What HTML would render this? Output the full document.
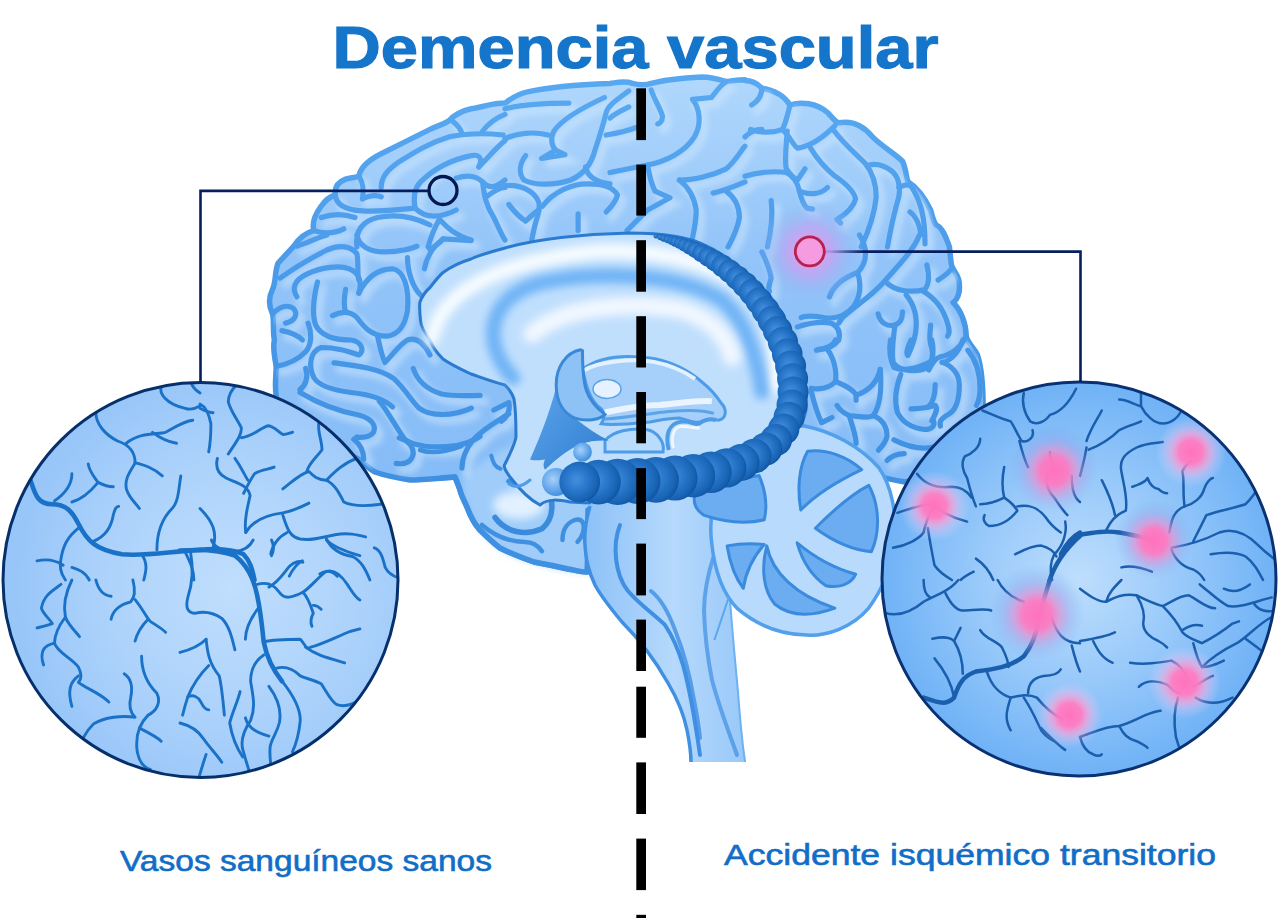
<!DOCTYPE html>
<html><head><meta charset="utf-8">
<style>
html,body{margin:0;padding:0;background:#fff;}
body{width:1280px;height:918px;overflow:hidden;position:relative;font-family:"Liberation Sans",sans-serif;}
svg{position:absolute;left:0;top:0;}
</style></head>
<body>
<svg width="1280" height="918" viewBox="0 0 1280 918" font-family="Liberation Sans, sans-serif">
<defs>
<radialGradient id="gL" cx="0.58" cy="0.52" r="0.55">
<stop offset="0" stop-color="#c0defd"/><stop offset="0.6" stop-color="#acd2fb"/><stop offset="1" stop-color="#98c6f9"/>
</radialGradient>
<radialGradient id="gR" cx="0.5" cy="0.5" r="0.52">
<stop offset="0" stop-color="#bedefd"/><stop offset="0.5" stop-color="#98c9fa"/><stop offset="1" stop-color="#6cb0f6"/>
</radialGradient>
<linearGradient id="gBr" gradientUnits="userSpaceOnUse" x1="0" y1="80" x2="0" y2="480">
<stop offset="0" stop-color="#b0d7fc"/><stop offset="0.45" stop-color="#92c4f9"/><stop offset="1" stop-color="#86bcf7"/>
</linearGradient>
<linearGradient id="gSu" gradientUnits="userSpaceOnUse" x1="0" y1="80" x2="0" y2="480">
<stop offset="0" stop-color="#58a8f1"/><stop offset="0.5" stop-color="#4a9aea"/><stop offset="1" stop-color="#4090e2"/>
</linearGradient>
<radialGradient id="pk">
<stop offset="0" stop-color="#ff72bc" stop-opacity="1"/><stop offset="0.35" stop-color="#ff7cc2" stop-opacity="0.95"/><stop offset="0.55" stop-color="#f898d2" stop-opacity="0.62"/><stop offset="0.78" stop-color="#e0b0ec" stop-opacity="0.22"/><stop offset="1" stop-color="#d8c0f4" stop-opacity="0"/>
</radialGradient>
<radialGradient id="pkh">
<stop offset="0" stop-color="#4f86e0" stop-opacity="0.55"/><stop offset="0.6" stop-color="#5a8fe4" stop-opacity="0.3"/><stop offset="1" stop-color="#6f9fe8" stop-opacity="0"/>
</radialGradient>
<radialGradient id="mkg">
<stop offset="0" stop-color="#f59ce0" stop-opacity="1"/><stop offset="0.4" stop-color="#c4a4f2" stop-opacity="0.85"/><stop offset="0.75" stop-color="#98b4f4" stop-opacity="0.35"/><stop offset="1" stop-color="#90c0f8" stop-opacity="0"/>
</radialGradient>
<radialGradient id="pkw">
<stop offset="0" stop-color="#f0f0ff" stop-opacity="0.6"/><stop offset="1" stop-color="#f0f0ff" stop-opacity="0"/>
</radialGradient>
<linearGradient id="gCC" x1="0" y1="0" x2="0" y2="1">
<stop offset="0" stop-color="#d9ecfe"/><stop offset="1" stop-color="#c4e0fd"/>
</linearGradient>
<linearGradient id="gBS" x1="0" y1="0" x2="1" y2="0">
<stop offset="0" stop-color="#8cc1f7"/><stop offset="0.55" stop-color="#b6d9fc"/><stop offset="1" stop-color="#98c8f9"/>
</linearGradient>
<radialGradient id="bead" cx="0.42" cy="0.45" r="0.6">
<stop offset="0" stop-color="#458fdc"/><stop offset="0.5" stop-color="#2775c9"/><stop offset="0.85" stop-color="#1762b2"/><stop offset="1" stop-color="#0f539f"/>
</radialGradient>
<radialGradient id="knob" cx="0.4" cy="0.4" r="0.65">
<stop offset="0" stop-color="#a6d0fa"/><stop offset="0.6" stop-color="#66a8ec"/><stop offset="1" stop-color="#3f8ad8"/>
</radialGradient>
<path id="cerP" d="M281.9,406.9 C280.0,403.8 276.2,400.0 276.2,396.2 C274.4,385.0 276.2,375.6 276.2,366.2 C274.4,356.9 272.5,347.5 274.4,340.0 C272.5,332.5 274.4,321.2 272.5,313.8 C268.8,306.2 268.8,296.9 272.5,289.4 C276.2,281.9 274.4,272.5 278.1,263.1 L293.1,246.9 C298.8,238.1 306.2,232.5 313.8,230.6 C311.9,223.1 315.6,213.8 321.2,206.2 C325.0,200.6 328.8,196.9 335.3,195.0 C334.4,187.5 338.1,181.9 345.6,179.1 C351.2,177.8 356.9,177.2 358.8,176.2 C360.6,166.9 370.0,159.4 381.2,153.8 C396.2,146.2 415.0,136.9 430.0,129.4 C437.5,125.6 443.1,124.7 448.8,120.9 C452.5,116.2 461.9,110.6 471.2,108.8 C482.5,106.9 493.8,103.1 505.0,103.1 L505.0,103.1 C512.5,97.5 518.1,93.8 527.5,91.9 C551.9,86.2 580.0,84.4 610.0,83.4 C617.5,82.5 625.0,80.6 632.5,83.4 C640.0,85.3 645.6,85.3 651.2,83.4 C664.4,79.7 683.1,77.8 701.9,76.9 C711.2,76.9 720.6,79.7 726.2,81.6 C733.8,80.6 739.4,79.7 745.0,79.7 L745.0,80.6 C752.5,80.6 758.1,84.4 761.9,88.1 C773.1,90.0 784.4,95.6 790.0,105.0 C801.2,101.2 816.2,103.1 827.5,112.5 C833.1,118.1 835.0,121.9 838.8,122.8 C853.8,120.0 865.0,127.5 872.5,136.9 C881.9,146.2 895.0,153.8 902.5,161.2 C906.2,168.8 906.2,178.1 908.1,181.9 C917.5,187.5 925.0,198.8 930.6,210.0 C932.5,217.5 934.4,223.1 936.2,225.0 C941.9,226.9 945.6,236.2 949.4,246.9 L951.2,263.1 C951.2,268.8 956.9,272.5 958.8,280.0 C960.6,289.4 958.8,298.8 953.1,302.5 C960.6,310.0 966.2,323.1 966.2,336.2 C968.1,343.8 973.8,347.5 977.5,355.0 C981.2,366.2 983.1,385.0 983.1,406.9 C982,415 975,440 960,455 C945,470 925,478 905,482 C880,478 860,472 840,460 C820,445 810,430 800,424 L745,470 L588,510 C588,540 588,560 587,572 C580,572 575,570 568,569 C555,566 545,564 534,562 C520,557 510,553 500,548 C492,542 485,535 479,529 C473,522 470,515 467,507 C464,500 461,495 460,490 C458,484 456,480 455,477 C440,478 425,480 410,480 C398,478 386,476 375,472 C368,468 364,464 360,460 C340,450 318,440 300,425 Z
"/>
<filter id="blur2" x="-30%" y="-30%" width="160%" height="160%"><feGaussianBlur stdDeviation="2"/></filter>
<filter id="blur3" x="-5%" y="-5%" width="110%" height="110%"><feGaussianBlur stdDeviation="3"/></filter>
<filter id="blur4" x="-30%" y="-30%" width="160%" height="160%"><feGaussianBlur stdDeviation="4"/></filter>
</defs>

<!-- cerebrum -->
<use href="#cerP" fill="url(#gBr)" stroke="url(#gSu)" stroke-width="5.5" stroke-linejoin="round"/>
<path d="M463,478 C490,450 540,430 592,425 L592,574 C560,572 520,562 500,550 C480,535 468,512 463,492 Z" fill="#aad3fb" opacity="0.7" filter="url(#blur3)"/>
<ellipse cx="519" cy="505" rx="26" ry="14" fill="#e2f1ff" filter="url(#blur4)"/>
<clipPath id="cerClip"><use href="#cerP"/></clipPath>
<g clip-path="url(#cerClip)" filter="url(#blur3)" opacity="0.55">
<g fill="none" stroke="#d2e9fe" stroke-width="8" stroke-linecap="round" transform="translate(5 6)">
<path d="M452.5,120.9C458.1,125.6,460.9,129.4,461.9,133.1" />
<path d="M381.2,187.5C381.2,176.2,388.8,168.8,400.0,161.2C415.0,151.9,430.0,142.5,448.8,136.9C467.5,133.1,486.2,133.1,503.1,135.0" />
<path d="M482.5,131.2C488.1,123.8,495.6,118.1,505.0,114.4" />
<path d="M358.8,176.2C362.5,181.9,364.4,187.5,362.5,198.8" />
<path d="M362.5,198.8C370.0,195.0,377.5,195.0,381.2,196.9" />
<path d="M335.3,195.0C336.2,206.2,347.5,210.0,362.5,210.9C377.5,211.9,396.2,210.0,415.0,208.1" />
<path d="M415.0,208.1C413.1,196.9,415.0,187.5,420.6,181.9C433.8,168.8,452.5,159.4,471.2,155.6C480.6,153.8,482.5,159.4,478.8,166.9" />
<path d="M478.8,166.9C490.0,155.6,497.5,146.2,505.0,140.6" />
<path d="M456.2,178.1C467.5,174.4,476.9,176.2,482.5,181.9C490.0,189.4,495.6,187.5,505.0,180.0" />
<path d="M482.5,181.9C484.4,196.9,486.2,206.2,493.8,217.5C497.5,225.0,501.2,234.4,505.0,240.0" />
<path d="M486.2,196.9C493.8,191.2,499.4,187.5,505.0,187.5" />
<path d="M415.0,208.1C424.4,217.5,437.5,219.4,456.2,210.0" />
<path d="M439.4,219.4C445.0,225.0,452.5,234.4,471.2,240.0" />
<path d="M439.4,219.4C433.8,228.8,430.0,240.0,428.1,246.9" />
<path d="M356.9,246.9C355.0,230.6,362.5,221.2,377.5,217.5C396.2,213.8,415.0,217.5,430.0,225.0" />
<path d="M313.8,230.6C325.0,234.4,336.2,232.5,343.8,228.8" />
<path d="M321.2,217.5C332.5,213.8,343.8,213.8,355.0,217.5" />
<path d="M505.0,108.8C520.0,105.0,542.5,103.1,568.8,103.1" />
<path d="M604.4,97.5C580.0,108.8,561.2,120.0,553.8,131.2C550.0,138.8,551.9,146.2,555.6,150.0L541.6,158.4L565.0,154.7L555.6,150.0" />
<path d="M505.0,138.8C516.2,133.1,533.1,131.2,548.1,135.0" />
<path d="M525.6,155.6C520.0,163.1,518.1,172.5,523.8,180.0C535.0,185.6,553.8,185.6,570.6,180.0C583.8,174.4,591.2,165.0,595.0,150.0C598.8,138.8,602.5,127.5,606.2,112.5C608.1,105.0,617.5,99.4,628.8,90.9" />
<path d="M628.8,106.9C621.2,110.6,613.8,114.4,610.0,118.1" />
<path d="M606.2,135.0C617.5,133.1,626.9,131.2,636.2,127.5" />
<path d="M651.2,90.0C655.0,101.2,660.6,108.8,662.5,116.2C662.5,121.9,658.8,123.8,657.8,123.8" />
<path d="M711.2,97.5L692.5,99.4C700.0,108.8,701.9,123.8,694.4,136.9C685.0,151.9,666.2,161.2,647.5,165.0C636.2,166.9,621.2,170.6,610.0,172.5" />
<path d="M726.2,81.6C718.8,86.2,715.0,93.8,711.2,97.5" />
<path d="M505.0,185.6C520.0,183.8,535.0,191.2,538.8,202.5C540.6,210.0,536.9,217.5,535.0,225.0C533.1,232.5,531.2,240.0,531.2,246.9" />
<path d="M508.8,204.4C514.4,211.9,520.0,217.5,525.6,221.2C529.4,217.5,533.1,213.8,538.8,210.0" />
<path d="M542.5,206.2C553.8,191.2,572.5,183.8,587.5,183.8C602.5,183.8,613.8,187.5,617.5,195.0C615.6,202.5,610.0,208.1,606.2,211.9" />
<path d="M585.6,166.9C587.5,176.2,595.0,181.9,610.0,183.8" />
<path d="M578.1,213.8L578.1,230.6" />
<path d="M647.5,165.0C649.4,176.2,651.2,183.8,655.0,191.2L670.0,197.8L647.5,210.0C640.0,217.5,632.5,225.0,626.9,230.6" />
<path d="M679.4,180.0C688.8,187.5,694.4,196.9,696.2,210.0C696.2,225.0,692.5,236.2,690.6,246.9" />
<path d="M679.4,180.0C692.5,180.0,711.2,176.2,726.2,168.8C735.6,161.2,741.2,150.0,745.0,146.2" />
<path d="M713.1,193.1C722.5,191.2,731.9,187.5,745.0,181.9" />
<path d="M726.2,191.2C733.8,196.9,739.4,206.2,739.4,217.5C737.5,228.8,731.9,240.0,728.1,246.9" />
<path d="M761.9,88.1C761.9,95.6,758.1,101.2,751.6,105.0" />
<path d="M790.0,105.0C788.1,112.5,786.2,121.9,782.5,129.4C773.1,133.1,760.0,133.1,750.6,129.4" />
<path d="M745.0,136.9C750.6,131.2,756.2,129.4,761.9,129.4" />
<path d="M782.5,129.4C790.0,136.9,793.8,146.2,797.5,148.1C810.6,146.2,823.8,136.9,835.0,125.6" />
<path d="M787.2,131.2C786.2,146.2,784.4,159.4,786.2,168.8C790.0,174.4,793.8,178.1,797.5,180.0L805.0,168.8" />
<path d="M745.0,176.2C756.2,172.5,773.1,170.6,786.2,172.5C793.8,176.2,797.5,181.9,799.4,191.2C801.2,198.8,803.1,204.4,806.9,208.1L812.5,209.1" />
<path d="M799.4,191.2C808.8,195.0,820.0,195.0,827.5,187.5" />
<path d="M810.6,148.1C816.2,157.5,823.8,166.9,835.0,176.2C846.2,183.8,853.8,191.2,855.6,198.8C853.8,206.2,846.2,213.8,836.9,219.4L840.6,223.1" />
<path d="M833.1,129.4C842.5,142.5,855.6,153.8,865.0,163.1C872.5,172.5,876.2,183.8,876.2,196.9C874.4,215.6,868.8,230.6,861.2,246.9" />
<path d="M868.8,165.0C876.2,163.1,883.8,165.0,891.2,170.6C898.8,176.2,900.6,187.5,898.8,196.9C895.0,210.0,891.2,225.0,887.5,246.9" />
<path d="M898.8,187.5C906.2,183.8,910.0,183.8,911.9,187.5C921.2,202.5,925.0,217.5,925.0,243.8" />
<path d="M910.0,211.9C915.6,215.6,919.4,225.0,921.2,234.4" />
<path d="M771.2,200.6C773.1,215.6,771.2,230.6,767.5,246.9" />
<path d="M296.9,246.2C308.1,242.5,319.4,236.9,326.9,235.0" />
<path d="M280.0,278.1C293.1,268.8,311.9,257.5,326.9,250.0C340.0,244.4,351.2,246.2,356.9,253.8C358.8,263.1,356.9,272.5,358.8,280.0" />
<path d="M356.9,235.0C358.8,246.2,370.0,251.9,385.0,251.9C400.0,251.9,413.1,248.1,416.9,246.2" />
<path d="M471.2,240.6L443.1,238.8C433.8,246.2,426.2,257.5,424.4,268.8" />
<path d="M443.1,238.8C441.2,242.5,433.8,246.2,430.0,250.0" />
<path d="M296.9,296.9C291.2,287.5,295.0,280.0,306.2,274.4C321.2,266.9,340.0,265.0,349.4,268.8C358.8,272.5,362.5,281.9,358.8,293.1" />
<path d="M358.8,293.1C366.2,278.1,377.5,268.8,392.5,268.8C403.8,270.6,409.4,287.5,407.5,310.0C405.6,323.1,400.0,334.4,386.9,336.2C370.0,336.2,362.5,325.0,356.9,317.5C351.2,311.9,343.8,310.0,332.5,315.6" />
<path d="M345.6,289.4C343.8,298.8,343.8,306.2,345.6,311.9" />
<path d="M407.5,257.5C407.5,272.5,413.1,287.5,420.6,295.0" />
<path d="M317.5,281.9C313.8,296.9,311.9,313.8,315.6,325.0C321.2,336.2,336.2,340.0,351.2,340.0C362.5,341.9,364.4,351.2,358.8,355.0C347.5,351.2,336.2,347.5,321.2,347.5C310.0,351.2,308.1,366.2,313.8,377.5C319.4,386.9,336.2,390.6,351.2,392.5C370.0,394.4,385.0,400.0,392.5,406.9" />
<path d="M377.5,336.2C379.4,343.8,381.2,355.0,385.0,362.5C392.5,355.0,400.0,343.8,407.5,340.0C418.8,336.2,426.2,347.5,430.0,355.0" />
<path d="M272.5,313.8C280.0,306.2,287.5,304.4,293.1,308.1C298.8,313.8,295.0,321.2,285.6,323.1" />
<path d="M281.9,330.6C291.2,332.5,298.8,336.2,302.5,340.0" />
<path d="M276.2,366.2C287.5,364.4,298.8,358.8,306.2,351.2C311.9,343.8,311.9,332.5,308.1,323.1" />
<path d="M761.9,251.9C765.6,259.4,769.4,266.9,771.2,278.1C769.4,283.8,767.5,291.2,769.4,291.2" />
<path d="M859.4,235.0C866.9,246.2,868.8,261.2,857.5,272.5C842.5,278.1,833.1,285.6,829.4,296.9" />
<path d="M857.5,272.5C861.2,283.8,861.2,295.0,853.8,306.2C846.2,315.6,835.0,319.4,823.8,317.5C812.5,315.6,805.0,315.6,801.2,317.5" />
<path d="M919.4,235.0C913.8,250.0,898.8,265.0,883.8,281.9C872.5,295.0,857.5,304.4,842.5,317.5L838.8,323.1" />
<path d="M885.6,281.9C895.0,291.2,910.0,293.1,925.0,289.4C930.6,281.9,928.8,272.5,926.9,265.0" />
<path d="M938.1,280.0C943.8,276.2,949.4,272.5,951.2,268.8" />
<path d="M923.1,291.2C936.2,298.8,943.8,310.0,947.5,323.1C949.4,328.8,949.4,334.4,947.5,336.2" />
<path d="M906.2,295.0C915.6,306.2,917.5,319.4,915.6,332.5C913.8,343.8,910.0,351.2,908.1,355.0" />
<path d="M878.1,313.8C880.0,323.1,887.5,326.9,895.0,325.0C900.6,323.1,902.5,317.5,902.5,311.9" />
<path d="M895.0,325.0C893.1,340.0,891.2,351.2,893.1,362.5C898.8,370.0,910.0,371.9,921.2,370.0C932.5,368.1,934.4,355.0,930.6,343.8C928.8,336.2,930.6,328.8,930.6,325.0" />
<path d="M797.5,326.9C808.8,323.1,820.0,321.2,831.2,323.1C838.8,326.9,840.6,332.5,838.8,340.0C833.1,347.5,823.8,349.4,818.1,349.4" />
<path d="M966.2,336.2C960.6,347.5,951.2,355.0,940.0,356.9C934.4,358.8,930.6,366.2,928.8,370.0" />
<path d="M493.8,410.0L508.8,402.5C510.6,411.9,506.9,417.5,501.2,421.2" />
<path d="M508.8,413.8C497.5,421.2,482.5,428.8,473.1,440.0C465.6,449.4,461.9,458.8,461.9,468.1" />
<path d="M508.8,481.2C516.2,485.0,523.8,483.1,529.4,475.6" />
<path d="M816.5,350.3C826.8,348.6,833.7,345.2,835.4,340.0" />
<path d="M826.8,348.6C833.7,357.2,837.1,371.0,835.4,381.3C830.2,388.2,818.2,389.9,811.3,388.2" />
<path d="M835.4,381.3C842.3,384.7,852.6,388.2,856.1,395.1L856.1,400.2" />
<path d="M856.1,395.1C866.4,391.6,876.7,384.7,880.2,369.3" />
<path d="M880.2,369.3C881.9,388.2,880.2,405.4,873.3,415.7C868.1,419.2,856.1,415.7,849.2,415.7C842.3,412.3,838.8,408.8,837.1,405.4" />
<path d="M873.3,415.7C881.9,419.2,887.0,426.1,887.0,436.4C885.3,443.3,880.2,448.4,878.4,450.2" />
<path d="M849.2,415.7C852.6,426.1,856.1,436.4,856.1,443.3" />
<path d="M811.3,391.6C814.7,405.4,818.2,415.7,821.6,422.6C825.1,420.9,828.5,419.2,832.0,417.5" />
<path d="M911.1,340.0C907.7,346.9,906.0,353.8,907.7,355.5" />
<path d="M890.5,340.0C888.8,350.3,890.5,360.7,893.9,367.5C904.2,372.7,924.9,365.8,931.8,360.7C933.5,353.8,933.5,346.9,931.8,340.0" />
<path d="M962.8,340.0C959.3,350.3,952.4,360.7,942.1,362.4" />
<path d="M900.8,374.4C895.6,388.2,893.9,400.2,897.4,412.3C902.5,422.6,911.1,427.8,924.9,429.5C931.8,429.5,935.2,426.1,933.5,420.9" />
<path d="M931.8,420.9C935.2,414.0,938.7,408.8,935.2,405.4L928.3,407.1C921.5,408.8,916.3,408.8,911.1,408.8" />
<path d="M935.2,384.7C935.2,395.1,933.5,402.0,928.3,407.1" />
<path d="M942.1,362.4C952.4,365.8,959.3,374.4,959.3,384.7C959.3,396.8,957.6,408.8,949.0,414.0C942.1,417.5,938.7,420.9,940.4,426.1" />
<path d="M967.9,350.3C976.5,360.7,980.0,374.4,980.0,388.2C980.0,395.1,978.3,402.0,976.5,405.4" />
<path d="M893.9,439.8C907.7,446.7,921.5,450.2,935.2,446.7" />
<path d="M887.0,460.5C890.5,457.0,897.4,453.6,904.2,453.6" />
<path d="M379.3,401.1C387.8,411.0,396.3,428.0,404.8,439.3C413.3,446.4,434.5,448.5,455.8,445.7C467.1,443.6,475.6,439.3,480.0,436.5" />
<path d="M334.0,362.8C356.6,365.7,379.3,368.5,393.5,378.4C404.8,388.3,410.5,399.7,419.0,408.1C430.3,416.6,452.9,416.6,471.4,408.1" />
<path d="M413.3,368.5C417.5,381.2,427.5,389.7,441.6,394.0C455.8,396.8,469.9,395.4,480.0,395.4" />
<path d="M300.0,392.6C314.2,401.1,335.4,411.0,359.5,415.2C370.8,418.1,376.5,425.1,373.6,432.2C370.8,436.5,363.7,437.9,356.6,437.2" />
<path d="M396.3,463.4C404.8,464.8,411.9,462.0,413.3,453.5C413.3,446.4,407.6,440.7,399.1,437.9" />
<path d="M305.7,368.5C308.5,377.0,305.7,385.5,300.0,389.7" />
<path d="M353.8,439.3C360.9,445.0,363.7,452.0,363.7,459.1" />
</g>
</g>
<g fill="none" stroke="url(#gSu)" stroke-width="5.2" stroke-linecap="round" stroke-linejoin="round">
<path d="M452.5,120.9C458.1,125.6,460.9,129.4,461.9,133.1" />
<path d="M381.2,187.5C381.2,176.2,388.8,168.8,400.0,161.2C415.0,151.9,430.0,142.5,448.8,136.9C467.5,133.1,486.2,133.1,503.1,135.0" />
<path d="M482.5,131.2C488.1,123.8,495.6,118.1,505.0,114.4" />
<path d="M358.8,176.2C362.5,181.9,364.4,187.5,362.5,198.8" />
<path d="M362.5,198.8C370.0,195.0,377.5,195.0,381.2,196.9" />
<path d="M335.3,195.0C336.2,206.2,347.5,210.0,362.5,210.9C377.5,211.9,396.2,210.0,415.0,208.1" />
<path d="M415.0,208.1C413.1,196.9,415.0,187.5,420.6,181.9C433.8,168.8,452.5,159.4,471.2,155.6C480.6,153.8,482.5,159.4,478.8,166.9" />
<path d="M478.8,166.9C490.0,155.6,497.5,146.2,505.0,140.6" />
<path d="M456.2,178.1C467.5,174.4,476.9,176.2,482.5,181.9C490.0,189.4,495.6,187.5,505.0,180.0" />
<path d="M482.5,181.9C484.4,196.9,486.2,206.2,493.8,217.5C497.5,225.0,501.2,234.4,505.0,240.0" />
<path d="M486.2,196.9C493.8,191.2,499.4,187.5,505.0,187.5" />
<path d="M415.0,208.1C424.4,217.5,437.5,219.4,456.2,210.0" />
<path d="M439.4,219.4C445.0,225.0,452.5,234.4,471.2,240.0" />
<path d="M439.4,219.4C433.8,228.8,430.0,240.0,428.1,246.9" />
<path d="M356.9,246.9C355.0,230.6,362.5,221.2,377.5,217.5C396.2,213.8,415.0,217.5,430.0,225.0" />
<path d="M313.8,230.6C325.0,234.4,336.2,232.5,343.8,228.8" />
<path d="M321.2,217.5C332.5,213.8,343.8,213.8,355.0,217.5" />
<path d="M505.0,108.8C520.0,105.0,542.5,103.1,568.8,103.1" />
<path d="M604.4,97.5C580.0,108.8,561.2,120.0,553.8,131.2C550.0,138.8,551.9,146.2,555.6,150.0L541.6,158.4L565.0,154.7L555.6,150.0" />
<path d="M505.0,138.8C516.2,133.1,533.1,131.2,548.1,135.0" />
<path d="M525.6,155.6C520.0,163.1,518.1,172.5,523.8,180.0C535.0,185.6,553.8,185.6,570.6,180.0C583.8,174.4,591.2,165.0,595.0,150.0C598.8,138.8,602.5,127.5,606.2,112.5C608.1,105.0,617.5,99.4,628.8,90.9" />
<path d="M628.8,106.9C621.2,110.6,613.8,114.4,610.0,118.1" />
<path d="M606.2,135.0C617.5,133.1,626.9,131.2,636.2,127.5" />
<path d="M651.2,90.0C655.0,101.2,660.6,108.8,662.5,116.2C662.5,121.9,658.8,123.8,657.8,123.8" />
<path d="M711.2,97.5L692.5,99.4C700.0,108.8,701.9,123.8,694.4,136.9C685.0,151.9,666.2,161.2,647.5,165.0C636.2,166.9,621.2,170.6,610.0,172.5" />
<path d="M726.2,81.6C718.8,86.2,715.0,93.8,711.2,97.5" />
<path d="M505.0,185.6C520.0,183.8,535.0,191.2,538.8,202.5C540.6,210.0,536.9,217.5,535.0,225.0C533.1,232.5,531.2,240.0,531.2,246.9" />
<path d="M508.8,204.4C514.4,211.9,520.0,217.5,525.6,221.2C529.4,217.5,533.1,213.8,538.8,210.0" />
<path d="M542.5,206.2C553.8,191.2,572.5,183.8,587.5,183.8C602.5,183.8,613.8,187.5,617.5,195.0C615.6,202.5,610.0,208.1,606.2,211.9" />
<path d="M585.6,166.9C587.5,176.2,595.0,181.9,610.0,183.8" />
<path d="M578.1,213.8L578.1,230.6" />
<path d="M647.5,165.0C649.4,176.2,651.2,183.8,655.0,191.2L670.0,197.8L647.5,210.0C640.0,217.5,632.5,225.0,626.9,230.6" />
<path d="M679.4,180.0C688.8,187.5,694.4,196.9,696.2,210.0C696.2,225.0,692.5,236.2,690.6,246.9" />
<path d="M679.4,180.0C692.5,180.0,711.2,176.2,726.2,168.8C735.6,161.2,741.2,150.0,745.0,146.2" />
<path d="M713.1,193.1C722.5,191.2,731.9,187.5,745.0,181.9" />
<path d="M726.2,191.2C733.8,196.9,739.4,206.2,739.4,217.5C737.5,228.8,731.9,240.0,728.1,246.9" />
<path d="M761.9,88.1C761.9,95.6,758.1,101.2,751.6,105.0" />
<path d="M790.0,105.0C788.1,112.5,786.2,121.9,782.5,129.4C773.1,133.1,760.0,133.1,750.6,129.4" />
<path d="M745.0,136.9C750.6,131.2,756.2,129.4,761.9,129.4" />
<path d="M782.5,129.4C790.0,136.9,793.8,146.2,797.5,148.1C810.6,146.2,823.8,136.9,835.0,125.6" />
<path d="M787.2,131.2C786.2,146.2,784.4,159.4,786.2,168.8C790.0,174.4,793.8,178.1,797.5,180.0L805.0,168.8" />
<path d="M745.0,176.2C756.2,172.5,773.1,170.6,786.2,172.5C793.8,176.2,797.5,181.9,799.4,191.2C801.2,198.8,803.1,204.4,806.9,208.1L812.5,209.1" />
<path d="M799.4,191.2C808.8,195.0,820.0,195.0,827.5,187.5" />
<path d="M810.6,148.1C816.2,157.5,823.8,166.9,835.0,176.2C846.2,183.8,853.8,191.2,855.6,198.8C853.8,206.2,846.2,213.8,836.9,219.4L840.6,223.1" />
<path d="M833.1,129.4C842.5,142.5,855.6,153.8,865.0,163.1C872.5,172.5,876.2,183.8,876.2,196.9C874.4,215.6,868.8,230.6,861.2,246.9" />
<path d="M868.8,165.0C876.2,163.1,883.8,165.0,891.2,170.6C898.8,176.2,900.6,187.5,898.8,196.9C895.0,210.0,891.2,225.0,887.5,246.9" />
<path d="M898.8,187.5C906.2,183.8,910.0,183.8,911.9,187.5C921.2,202.5,925.0,217.5,925.0,243.8" />
<path d="M910.0,211.9C915.6,215.6,919.4,225.0,921.2,234.4" />
<path d="M771.2,200.6C773.1,215.6,771.2,230.6,767.5,246.9" />
<path d="M296.9,246.2C308.1,242.5,319.4,236.9,326.9,235.0" />
<path d="M280.0,278.1C293.1,268.8,311.9,257.5,326.9,250.0C340.0,244.4,351.2,246.2,356.9,253.8C358.8,263.1,356.9,272.5,358.8,280.0" />
<path d="M356.9,235.0C358.8,246.2,370.0,251.9,385.0,251.9C400.0,251.9,413.1,248.1,416.9,246.2" />
<path d="M471.2,240.6L443.1,238.8C433.8,246.2,426.2,257.5,424.4,268.8" />
<path d="M443.1,238.8C441.2,242.5,433.8,246.2,430.0,250.0" />
<path d="M296.9,296.9C291.2,287.5,295.0,280.0,306.2,274.4C321.2,266.9,340.0,265.0,349.4,268.8C358.8,272.5,362.5,281.9,358.8,293.1" />
<path d="M358.8,293.1C366.2,278.1,377.5,268.8,392.5,268.8C403.8,270.6,409.4,287.5,407.5,310.0C405.6,323.1,400.0,334.4,386.9,336.2C370.0,336.2,362.5,325.0,356.9,317.5C351.2,311.9,343.8,310.0,332.5,315.6" />
<path d="M345.6,289.4C343.8,298.8,343.8,306.2,345.6,311.9" />
<path d="M407.5,257.5C407.5,272.5,413.1,287.5,420.6,295.0" />
<path d="M317.5,281.9C313.8,296.9,311.9,313.8,315.6,325.0C321.2,336.2,336.2,340.0,351.2,340.0C362.5,341.9,364.4,351.2,358.8,355.0C347.5,351.2,336.2,347.5,321.2,347.5C310.0,351.2,308.1,366.2,313.8,377.5C319.4,386.9,336.2,390.6,351.2,392.5C370.0,394.4,385.0,400.0,392.5,406.9" />
<path d="M377.5,336.2C379.4,343.8,381.2,355.0,385.0,362.5C392.5,355.0,400.0,343.8,407.5,340.0C418.8,336.2,426.2,347.5,430.0,355.0" />
<path d="M272.5,313.8C280.0,306.2,287.5,304.4,293.1,308.1C298.8,313.8,295.0,321.2,285.6,323.1" />
<path d="M281.9,330.6C291.2,332.5,298.8,336.2,302.5,340.0" />
<path d="M276.2,366.2C287.5,364.4,298.8,358.8,306.2,351.2C311.9,343.8,311.9,332.5,308.1,323.1" />
<path d="M761.9,251.9C765.6,259.4,769.4,266.9,771.2,278.1C769.4,283.8,767.5,291.2,769.4,291.2" />
<path d="M859.4,235.0C866.9,246.2,868.8,261.2,857.5,272.5C842.5,278.1,833.1,285.6,829.4,296.9" />
<path d="M857.5,272.5C861.2,283.8,861.2,295.0,853.8,306.2C846.2,315.6,835.0,319.4,823.8,317.5C812.5,315.6,805.0,315.6,801.2,317.5" />
<path d="M919.4,235.0C913.8,250.0,898.8,265.0,883.8,281.9C872.5,295.0,857.5,304.4,842.5,317.5L838.8,323.1" />
<path d="M885.6,281.9C895.0,291.2,910.0,293.1,925.0,289.4C930.6,281.9,928.8,272.5,926.9,265.0" />
<path d="M938.1,280.0C943.8,276.2,949.4,272.5,951.2,268.8" />
<path d="M923.1,291.2C936.2,298.8,943.8,310.0,947.5,323.1C949.4,328.8,949.4,334.4,947.5,336.2" />
<path d="M906.2,295.0C915.6,306.2,917.5,319.4,915.6,332.5C913.8,343.8,910.0,351.2,908.1,355.0" />
<path d="M878.1,313.8C880.0,323.1,887.5,326.9,895.0,325.0C900.6,323.1,902.5,317.5,902.5,311.9" />
<path d="M895.0,325.0C893.1,340.0,891.2,351.2,893.1,362.5C898.8,370.0,910.0,371.9,921.2,370.0C932.5,368.1,934.4,355.0,930.6,343.8C928.8,336.2,930.6,328.8,930.6,325.0" />
<path d="M797.5,326.9C808.8,323.1,820.0,321.2,831.2,323.1C838.8,326.9,840.6,332.5,838.8,340.0C833.1,347.5,823.8,349.4,818.1,349.4" />
<path d="M966.2,336.2C960.6,347.5,951.2,355.0,940.0,356.9C934.4,358.8,930.6,366.2,928.8,370.0" />
<path d="M493.8,410.0L508.8,402.5C510.6,411.9,506.9,417.5,501.2,421.2" />
<path d="M508.8,413.8C497.5,421.2,482.5,428.8,473.1,440.0C465.6,449.4,461.9,458.8,461.9,468.1" />
<path d="M508.8,481.2C516.2,485.0,523.8,483.1,529.4,475.6" />
<path d="M816.5,350.3C826.8,348.6,833.7,345.2,835.4,340.0" />
<path d="M826.8,348.6C833.7,357.2,837.1,371.0,835.4,381.3C830.2,388.2,818.2,389.9,811.3,388.2" />
<path d="M835.4,381.3C842.3,384.7,852.6,388.2,856.1,395.1L856.1,400.2" />
<path d="M856.1,395.1C866.4,391.6,876.7,384.7,880.2,369.3" />
<path d="M880.2,369.3C881.9,388.2,880.2,405.4,873.3,415.7C868.1,419.2,856.1,415.7,849.2,415.7C842.3,412.3,838.8,408.8,837.1,405.4" />
<path d="M873.3,415.7C881.9,419.2,887.0,426.1,887.0,436.4C885.3,443.3,880.2,448.4,878.4,450.2" />
<path d="M849.2,415.7C852.6,426.1,856.1,436.4,856.1,443.3" />
<path d="M811.3,391.6C814.7,405.4,818.2,415.7,821.6,422.6C825.1,420.9,828.5,419.2,832.0,417.5" />
<path d="M911.1,340.0C907.7,346.9,906.0,353.8,907.7,355.5" />
<path d="M890.5,340.0C888.8,350.3,890.5,360.7,893.9,367.5C904.2,372.7,924.9,365.8,931.8,360.7C933.5,353.8,933.5,346.9,931.8,340.0" />
<path d="M962.8,340.0C959.3,350.3,952.4,360.7,942.1,362.4" />
<path d="M900.8,374.4C895.6,388.2,893.9,400.2,897.4,412.3C902.5,422.6,911.1,427.8,924.9,429.5C931.8,429.5,935.2,426.1,933.5,420.9" />
<path d="M931.8,420.9C935.2,414.0,938.7,408.8,935.2,405.4L928.3,407.1C921.5,408.8,916.3,408.8,911.1,408.8" />
<path d="M935.2,384.7C935.2,395.1,933.5,402.0,928.3,407.1" />
<path d="M942.1,362.4C952.4,365.8,959.3,374.4,959.3,384.7C959.3,396.8,957.6,408.8,949.0,414.0C942.1,417.5,938.7,420.9,940.4,426.1" />
<path d="M967.9,350.3C976.5,360.7,980.0,374.4,980.0,388.2C980.0,395.1,978.3,402.0,976.5,405.4" />
<path d="M893.9,439.8C907.7,446.7,921.5,450.2,935.2,446.7" />
<path d="M887.0,460.5C890.5,457.0,897.4,453.6,904.2,453.6" />
<path d="M379.3,401.1C387.8,411.0,396.3,428.0,404.8,439.3C413.3,446.4,434.5,448.5,455.8,445.7C467.1,443.6,475.6,439.3,480.0,436.5" />
<path d="M334.0,362.8C356.6,365.7,379.3,368.5,393.5,378.4C404.8,388.3,410.5,399.7,419.0,408.1C430.3,416.6,452.9,416.6,471.4,408.1" />
<path d="M413.3,368.5C417.5,381.2,427.5,389.7,441.6,394.0C455.8,396.8,469.9,395.4,480.0,395.4" />
<path d="M300.0,392.6C314.2,401.1,335.4,411.0,359.5,415.2C370.8,418.1,376.5,425.1,373.6,432.2C370.8,436.5,363.7,437.9,356.6,437.2" />
<path d="M396.3,463.4C404.8,464.8,411.9,462.0,413.3,453.5C413.3,446.4,407.6,440.7,399.1,437.9" />
<path d="M305.7,368.5C308.5,377.0,305.7,385.5,300.0,389.7" />
<path d="M353.8,439.3C360.9,445.0,363.7,452.0,363.7,459.1" />
</g>

<path d="M495.0,517.5C506.2,532.5,525.0,536.2,541.9,528.8C551.2,521.2,553.1,510.0,551.2,498.8" fill="none" stroke="#3a8ade" stroke-width="5.5" stroke-linecap="round"/>
<path d="M481.9,525.0C495.0,536.2,510.0,541.9,525.0,541.9C532.5,541.9,538.1,545.6,541.9,551.2" fill="none" stroke="#4090e2" stroke-width="4.5" stroke-linecap="round"/>
<path d="M562.5,540.0C562.5,528.8,568.1,521.2,577.5,519.4C583.1,519.4,585.0,525.0,583.1,532.5C581.2,538.1,579.4,540.0,577.5,541.9" fill="none" stroke="#4090e2" stroke-width="4.5" stroke-linecap="round"/>
<path d="M420.0,450.0C431.2,453.8,446.2,451.9,461.2,446.2" fill="none" stroke="#4090e2" stroke-width="4.5" stroke-linecap="round"/>
<path d="M491.2,455.6C493.1,463.1,495.0,466.9,500.6,468.8" fill="none" stroke="#4090e2" stroke-width="4" stroke-linecap="round"/>
<use href="#cerP" fill="none" stroke="#4090e2" stroke-width="5.5" stroke-linejoin="round" clip-path="url(#botClip)"/>
<clipPath id="botClip"><rect x="440" y="470" width="160" height="120"/></clipPath>
<!-- interior pale -->
<path d="M505,248 C540,238 590,234 630,233 C665,233 690,238 700,243 C730,256 760,280 780,310 C800,345 808,380 806,410 C800,440 770,470 730,485 C690,498 620,506 570,502 C560,500 548,498 540,505 C530,500 520,490 510,477 C505,470 503,466 505,464 C512,450 516,440 516,436 C516,420 515,405 514,399 C512,392 508,388 505,385 C490,381 480,377 471,374 C458,368 450,364 443,359 C436,352 432,346 430,340 C424,332 421,326 420.6,321 C419.5,312 419.5,307 419.8,302.5 C422,296 426,291 430,287.5 C435,281 439,276 443,272.5 C452,266 461,262 471,259 C482,254 494,251 505,248 Z" fill="#c0dffd" stroke="#2a7ad0" stroke-width="3"/>
<path d="M432,338 C440,292 500,260 600,251 C690,249 745,276 765,311 C775,336 778,361 775,386" fill="none" stroke="#f6fbff" stroke-width="15" stroke-linecap="round" filter="url(#blur4)"/>
<path d="M513,378 C480,342 488,297 540,283 C600,270 680,274 722,300 C747,322 757,357 762,392" fill="none" stroke="#6fb3f6" stroke-width="15" stroke-linecap="round" filter="url(#blur4)"/>
<path d="M532,334 C562,308 622,300 682,310 C712,320 727,337 732,357" fill="none" stroke="#f0f7ff" stroke-width="18" stroke-linecap="round" filter="url(#blur4)"/>
<!-- thalamus -->
<path d="M582.5,369.4C597.5,358.1,621.9,354.4,650.0,358.1C668.8,360.9,687.5,369.4,702.5,382.5C711.9,390.0,717.5,397.5,721.2,403.1C726.9,408.8,726.9,418.1,719.4,420.0C711.9,420.0,706.2,418.1,700.6,421.9C695.0,423.8,687.5,420.0,680.0,418.1C668.8,418.1,661.2,420.0,650.0,421.9C631.2,423.8,612.5,425.6,601.2,423.8C605.0,418.1,605.0,412.5,601.2,408.8C590.0,401.2,586.2,386.2,582.5,369.4Z" fill="#a6d0f9" stroke="#4e9be8" stroke-width="3"/>
<path d="M584.4,370.3C597.5,361.9,631.2,358.1,653.8,361.9C668.8,364.7,683.8,371.2,695.0,378.8" fill="none" stroke="#e4f1ff" stroke-width="4"/>
<path d="M605.0,412.5C621.9,408.8,640.6,405.0,659.4,405.0C678.1,404.1,696.9,399.4,711.9,401.2" fill="none" stroke="#eaf4ff" stroke-width="6"/>
<path d="M605.0,419.1C631.2,417.2,650.0,413.4,668.8,411.6C687.5,409.7,702.5,409.7,713.8,413.4" fill="none" stroke="#5ba4ea" stroke-width="3"/>
<path d="M605.0,440.6C612.5,431.2,631.2,427.5,646.2,429.4C657.5,431.2,665.0,442.5,663.1,451.9L605.0,451.9Z" fill="#b9dbfc" stroke="#4e9be8" stroke-width="3"/>
<path d="M668.8,450.0C665.0,435.0,668.8,423.8,680.0,421.9C689.4,420.0,695.0,425.6,698.8,423.8C704.4,420.0,710.0,418.1,715.6,420.0" fill="none" stroke="#4e9be8" stroke-width="4"/>
<path d="M673.4,448.1C670.6,436.9,673.4,427.5,680.9,426.6C688.4,425.6,695.0,429.4,699.7,427.5" fill="none" stroke="#eef6ff" stroke-width="3"/>
<ellipse cx="607" cy="389" rx="14" ry="9.4" fill="#e6f2ff" stroke="#5aa3ea" stroke-width="1.5"/>
<linearGradient id="gHook" x1="0" y1="0" x2="1" y2="1"><stop offset="0" stop-color="#5fa6ec"/><stop offset="1" stop-color="#2f7dd0"/></linearGradient>
<path d="M558.1,378.8C552.5,405.0,541.2,435.0,530.0,459.4C537.5,461.2,541.2,459.4,545.0,459.4C543.1,463.1,543.1,466.9,545.0,469.7C556.2,459.4,571.2,446.2,586.2,442.5C593.8,440.6,601.2,440.6,608.8,440.6C597.5,435.0,586.2,427.5,575.0,418.1C563.8,410.6,558.1,399.4,558.1,378.8Z" fill="url(#gHook)"/>
<path d="M580.6,349.7C565.6,352.5,556.2,367.5,556.2,384.4C556.2,399.4,561.9,412.5,575.0,418.1C586.2,421.9,599.4,420.0,605.0,414.4C597.5,408.8,590.0,401.2,586.2,390.0C582.5,378.8,582.5,363.8,582.5,350.6Z" fill="#8cc2f6" stroke="#3a88d8" stroke-width="3"/>
<circle cx="582.5" cy="452" r="9.4" fill="url(#knob)"/>
<path d="M509,484 C515,488 522,487 530,480" fill="none" stroke="#4f9ce8" stroke-width="3" stroke-linecap="round"/>

<!-- pons + brainstem -->
<path d="M592,500 C586,520 584,534 585,545 C586,560 588,570 595,585 C602,598 612,610 622,622 C640,640 655,660 668,683 C678,700 684,715 687,730 C690,745 691,755 691,762 L746,762 C742,740 739,712 738,692 C735,660 732,630 730,600 L726,540 L740,480 L650,480 Z" fill="url(#gBS)"/>
<path d="M590,506 C586,520 584,534 585,545 C586,560 588,570 595,585 C602,598 612,610 622,622 C640,640 655,660 668,683 C678,700 684,715 687,730 C690,745 691,755 691,762" fill="none" stroke="#3f8fe2" stroke-width="3.5"/>
<g fill="none" stroke="#3f8fe2" stroke-width="4" stroke-linecap="round">
<path d="M620,525 C612,545 615,575 628,591 C640,605 655,615 665,625 C675,640 680,655 683,665 C690,690 695,720 700,755"/>
<path d="M651,591 C660,598 668,611 675,630 C683,650 690,676 694,700 C697,715 699,728 700,738" opacity="0.8"/>
<path d="M714,555 C706,580 704,600 704,611 C705,640 708,660 712,680 C720,710 730,735 737,755" opacity="0.7"/>
</g>
<path d="M730,600 C733,640 736,670 738,692 C740,720 742,740 745,762" fill="none" stroke="#6db1f1" stroke-width="2"/>

<!-- cerebellum -->
<path d="M802.9,425.7C831.6,430.9,860.4,446.6,878.7,467.5C891.8,485.8,897.0,514.6,894.4,540.7C891.8,566.9,883.9,587.8,868.2,608.7C852.5,627.0,826.4,637.5,802.9,634.8C779.3,633.5,755.8,624.4,737.5,608.7C721.8,593.0,714.0,566.9,711.4,540.7C708.8,514.6,714.0,488.4,732.3,462.3C753.2,438.8,779.3,425.7,802.9,425.7Z" fill="#b8dafc" stroke="#52a0ec" stroke-width="3.5"/>
<g fill="#6cacf0" stroke="#3a8ade" stroke-width="3" stroke-linejoin="round">
<path d="M807.6,451.3C826.4,448.7,847.3,456.5,861.7,469.6C839.5,480.1,817.3,493.1,800.8,509.9C797.1,488.4,799.0,466.2,807.6,451.3Z" />
<path d="M815.4,528.2C832.9,510.7,851.2,494.2,868.8,485.3C880.0,506.2,880.0,532.9,871.4,551.7C852.5,549.9,834.2,542.0,815.4,528.2Z" />
<path d="M797.1,542.8C815.9,558.5,836.9,569.0,855.7,574.2C851.2,584.6,838.2,588.3,825.9,585.7C810.7,575.2,802.4,561.6,797.1,542.8Z" />
<path d="M766.8,545.9C772.0,572.1,795.0,595.1,834.8,608.2C810.7,617.1,789.8,616.5,774.6,604.0C763.1,590.4,761.0,567.4,766.8,545.9Z" />
<path d="M727.1,545.9C740.1,543.3,753.7,543.3,764.2,544.6C753.7,556.4,745.9,572.1,743.3,588.3C734.9,577.3,729.7,561.6,727.1,545.9Z" />
<path d="M695.2,494.2C711.4,485.8,737.5,478.5,759.0,475.4C766.8,493.7,766.8,509.3,764.2,519.8C742.7,525.0,719.2,520.3,703.5,515.1C695.7,509.9,692.5,502.0,695.2,494.2Z" />
</g>
<path d="M728.8,597.3C724.0,611.7,719.2,626.1,714.4,640.0" fill="none" stroke="#5ca6ee" stroke-width="2"/>

<!-- dark arc -->
<circle cx="556" cy="482" r="14" fill="url(#knob)"/>
<circle cx="656.0" cy="236.0" r="2.5" fill="url(#bead)"/>
<circle cx="660.3" cy="237.1" r="3.1" fill="url(#bead)"/>
<circle cx="663.8" cy="238.1" r="3.6" fill="url(#bead)"/>
<circle cx="667.8" cy="239.1" r="4.2" fill="url(#bead)"/>
<circle cx="672.0" cy="240.3" r="4.8" fill="url(#bead)"/>
<circle cx="675.4" cy="241.4" r="5.3" fill="url(#bead)"/>
<circle cx="680.0" cy="243.0" r="6.0" fill="url(#bead)"/>
<circle cx="684.3" cy="244.8" r="6.6" fill="url(#bead)"/>
<circle cx="689.4" cy="247.0" r="7.4" fill="url(#bead)"/>
<circle cx="695.1" cy="249.7" r="8.2" fill="url(#bead)"/>
<circle cx="701.3" cy="253.0" r="9.1" fill="url(#bead)"/>
<circle cx="708.0" cy="256.7" r="9.8" fill="url(#bead)"/>
<circle cx="715.0" cy="260.9" r="10.5" fill="url(#bead)"/>
<circle cx="722.4" cy="265.8" r="11.1" fill="url(#bead)"/>
<circle cx="729.7" cy="271.3" r="11.6" fill="url(#bead)"/>
<circle cx="737.6" cy="277.9" r="12.2" fill="url(#bead)"/>
<circle cx="744.8" cy="284.6" r="12.7" fill="url(#bead)"/>
<circle cx="752.0" cy="292.2" r="13.1" fill="url(#bead)"/>
<circle cx="759.0" cy="301.0" r="13.5" fill="url(#bead)"/>
<circle cx="765.6" cy="310.3" r="13.9" fill="url(#bead)"/>
<circle cx="771.9" cy="320.3" r="14.3" fill="url(#bead)"/>
<circle cx="777.6" cy="330.7" r="14.7" fill="url(#bead)"/>
<circle cx="782.9" cy="342.0" r="15.1" fill="url(#bead)"/>
<circle cx="787.2" cy="353.9" r="15.3" fill="url(#bead)"/>
<circle cx="790.6" cy="365.9" r="15.5" fill="url(#bead)"/>
<circle cx="792.6" cy="378.7" r="15.5" fill="url(#bead)"/>
<circle cx="793.1" cy="392.0" r="15.5" fill="url(#bead)"/>
<circle cx="792.0" cy="404.9" r="15.5" fill="url(#bead)"/>
<circle cx="789.0" cy="417.2" r="15.5" fill="url(#bead)"/>
<circle cx="783.7" cy="429.1" r="15.7" fill="url(#bead)"/>
<circle cx="776.0" cy="440.0" r="16.0" fill="url(#bead)"/>
<circle cx="765.8" cy="448.9" r="16.5" fill="url(#bead)"/>
<circle cx="754.3" cy="456.1" r="17.3" fill="url(#bead)"/>
<circle cx="741.1" cy="462.5" r="18.5" fill="url(#bead)"/>
<circle cx="726.7" cy="467.9" r="19.7" fill="url(#bead)"/>
<circle cx="710.9" cy="472.3" r="20.8" fill="url(#bead)"/>
<circle cx="693.4" cy="475.7" r="21.8" fill="url(#bead)"/>
<circle cx="675.1" cy="478.1" r="22.5" fill="url(#bead)"/>
<circle cx="656.0" cy="479.9" r="22.9" fill="url(#bead)"/>
<circle cx="637.5" cy="481.1" r="23.0" fill="url(#bead)"/>
<circle cx="617.7" cy="481.9" r="23.2" fill="url(#bead)"/>
<circle cx="598.5" cy="482.1" r="22.3" fill="url(#bead)"/>
<circle cx="579.7" cy="482.0" r="20.4" fill="url(#bead)"/>

<!-- left circle -->
<clipPath id="clipL"><circle cx="200.5" cy="580" r="197"/></clipPath>
<clipPath id="clipR"><circle cx="1079" cy="579" r="196.5"/></clipPath>
<circle cx="200.5" cy="580" r="197.5" fill="url(#gL)"/>
<g clip-path="url(#clipL)" fill="none" stroke="#1a72c8" stroke-linecap="round" stroke-linejoin="round">
<g stroke-width="4.6">
<path d="M30.5,480.2C34.9,493.3,37.0,504.2,52.3,504.2C65.4,504.2,71.9,510.7,78.4,523.8C87.1,541.2,95.9,549.9,122.0,554.3C143.8,556.5,165.6,552.1,200.0,549.9" />
<path d="M200.0,549.9C217.4,547.8,234.9,549.9,243.6,554.3C250.1,560.8,252.3,569.5,254.5,580.0" />
<path d="M180.0,550.5C200.9,549.2,221.8,550.5,234.9,555.7C245.4,563.5,253.2,576.6,257.1,594.9C261.0,613.2,262.4,628.9,263.7,642.0C266.3,655.0,271.5,668.1,282.0,681.2" />
</g>
<g stroke-width="2.9">
<path d="M95.9,412.7C95.9,423.6,104.6,434.5,117.6,441.0C130.7,445.4,135.1,454.1,135.1,462.8C130.7,471.5,124.2,478.0,126.4,488.9C128.5,497.6,135.1,502.0,139.4,508.5" />
<path d="M126.4,443.2C139.4,432.3,156.9,434.5,165.6,432.3C174.3,427.9,183.0,421.4,192.8,420.3" />
<path d="M152.5,432.3C161.2,438.8,169.9,442.1,176.5,443.2" />
<path d="M135.1,462.8C143.8,465.0,152.5,467.1,162.3,475.9" />
<path d="M54.5,500.9C65.4,493.3,71.9,484.6,71.9,473.7" />
<path d="M71.9,502.0C87.1,497.6,95.9,484.6,98.0,482.4C102.4,484.6,108.9,486.8,113.3,486.8" />
<path d="M98.0,482.4C93.7,475.9,89.3,471.5,88.2,463.9" />
<path d="M78.4,528.1C67.5,536.9,63.2,545.6,61.0,558.6C58.8,567.4,61.0,573.9,65.4,580.0" />
<path d="M37.0,560.8C47.9,558.6,56.6,560.8,63.2,565.2" />
<path d="M93.7,541.2C104.6,536.9,111.1,528.1,113.3,515.1C114.4,510.7,115.5,506.4,118.7,506.4" />
<path d="M156.9,549.9C156.9,532.5,161.2,519.4,172.1,508.5C178.6,502.0,178.6,488.9,180.8,475.9" />
<path d="M161.2,386.5C159.0,393.1,165.6,404.0,185.2,408.3C191.7,410.5,196.1,408.3,200.0,406.1" />
<path d="M191.7,384.4C193.9,388.7,196.1,390.9,200.0,393.1" />
<path d="M141.6,554.3C148.1,563.0,146.0,571.7,143.8,580.0" />
<path d="M185.2,552.1C189.5,560.8,193.9,569.5,193.9,580.0" />
<path d="M71.9,567.4C78.4,569.5,85.0,571.7,89.3,580.0" />
<path d="M213.1,547.8C217.4,532.5,213.1,521.6,200.0,508.5" />
<path d="M245.8,532.5C252.3,521.6,265.4,515.1,282.8,512.9C293.7,510.7,302.4,506.4,308.9,503.1" />
<path d="M245.8,532.5C243.6,519.4,247.9,506.4,250.1,495.5C247.9,484.6,234.9,482.4,226.1,478.0C217.4,473.7,215.3,467.1,217.4,458.4" />
<path d="M243.6,493.3C247.9,484.6,250.1,480.2,254.5,473.7C261.0,469.3,269.7,469.3,274.1,467.1" />
<path d="M234.9,458.4C241.4,467.1,243.6,473.7,247.9,480.2" />
<path d="M282.8,515.1C287.1,528.1,289.3,536.9,300.2,539.0C313.3,541.2,322.0,536.9,335.1,534.7C348.1,532.5,356.9,534.7,365.6,536.9" />
<path d="M287.1,532.5C278.4,536.9,271.9,545.6,270.8,554.3" />
<path d="M326.4,539.0C330.7,547.8,339.4,554.3,352.5,556.5C361.2,560.8,365.6,569.5,369.9,580.0" />
<path d="M374.3,547.8C380.8,549.9,383.0,558.6,385.2,567.4C387.4,571.7,391.7,576.1,400.0,578.3" />
<path d="M282.8,488.9C291.5,482.4,300.2,473.7,308.9,471.5C313.3,475.9,317.6,480.2,326.4,480.2C335.1,484.6,339.4,493.3,343.8,502.0C352.5,506.4,365.6,506.4,380.8,504.2" />
<path d="M306.8,471.5C308.9,462.8,317.6,456.3,322.0,449.7C322.0,441.0,317.6,432.3,318.7,423.6" />
<path d="M326.4,480.2C335.1,471.5,343.8,462.8,356.9,458.4" />
<path d="M228.3,454.1C234.9,443.2,241.4,436.6,241.4,427.9C237.0,419.2,230.5,410.5,228.3,401.8C228.3,395.3,232.7,388.7,237.0,384.4" />
<path d="M241.4,437.7C252.3,436.6,261.0,427.9,267.5,425.8C274.1,425.8,278.4,432.3,282.8,434.5C287.1,434.5,291.5,432.3,292.6,432.3" />
<path d="M208.7,451.9C210.9,441.0,210.9,432.3,210.9,423.6C208.7,412.7,204.4,406.1,200.0,404.0" />
<path d="M200.0,408.3C204.4,410.5,208.7,412.7,213.1,412.7" />
<path d="M289.3,576.1C293.7,567.4,298.0,563.0,302.4,560.8" />
<path d="M319.8,573.9C326.4,569.5,332.9,571.7,337.3,576.1" />
<path d="M71.9,580.0C65.4,593.1,63.2,606.1,65.4,617.0C67.5,623.6,74.1,630.1,79.5,636.6" />
<path d="M65.4,617.0C58.8,625.8,54.5,634.5,54.5,643.2C56.6,651.9,71.9,658.4,78.4,667.1C82.8,675.9,80.6,680.2,78.4,682.4C87.1,688.9,100.2,693.3,108.9,702.0" />
<path d="M78.4,675.9C69.7,682.4,67.5,691.1,71.9,706.4" />
<path d="M54.5,643.2C43.6,645.4,39.2,651.9,43.6,665.0" />
<path d="M61.0,584.4C52.3,590.9,43.6,595.3,41.4,608.3C43.6,614.9,50.1,619.2,52.3,623.6C45.8,625.8,41.4,626.8,37.0,627.9" />
<path d="M95.9,580.0C98.0,588.7,102.4,595.3,111.1,596.3" />
<path d="M132.9,580.0C135.1,588.7,135.1,597.4,130.7,601.8C122.0,604.0,113.3,608.3,111.1,619.2" />
<path d="M135.1,599.6C143.8,610.5,146.0,617.0,150.3,621.4C156.9,625.8,161.2,627.9,165.6,632.3" />
<path d="M148.1,619.2C141.6,625.8,137.3,632.3,135.1,641.0" />
<path d="M141.6,656.3C141.6,671.5,148.1,684.6,156.9,693.3C161.2,702.0,156.9,710.7,148.1,715.1C139.4,723.8,135.1,736.9,137.3,752.1C139.4,763.0,143.8,767.4,150.3,769.5" />
<path d="M124.2,673.7C130.7,678.0,132.9,686.8,130.7,697.6C128.5,706.4,130.7,712.9,135.1,717.3C122.0,715.1,104.6,717.3,93.7,723.8C87.1,730.3,85.0,734.7,83.9,736.9" />
<path d="M139.4,728.1C148.1,732.5,156.9,736.9,161.2,741.2" />
<path d="M282.0,681.2C292.4,694.2,300.3,707.3,300.3,720.4C299.0,733.5,295.0,746.5,292.4,751.8" />
<path d="M211.4,540.0C214.0,547.8,224.4,551.8,234.9,551.8C245.4,550.5,250.6,545.2,253.2,540.0" />
<path d="M190.5,551.8C193.1,566.1,193.1,581.8,187.8,597.5C185.2,608.0,187.8,613.2,195.7,613.2C206.1,610.6,214.0,613.2,221.8,618.4C229.7,626.3,232.3,639.3,234.9,649.8" />
<path d="M206.1,639.3C207.5,652.4,208.8,662.9,219.2,675.9C221.8,686.4,223.1,702.1,224.4,715.2" />
<path d="M208.8,665.5C200.9,673.3,193.1,683.8,187.8,696.9C185.2,704.7,183.9,709.9,182.6,715.2" />
<path d="M180.0,652.4C190.5,649.8,200.9,644.6,206.1,639.3" />
<path d="M187.8,696.9C193.1,694.2,198.3,696.9,200.9,702.1C203.5,707.3,206.1,709.9,208.8,709.9" />
<path d="M180.0,723.0C190.5,725.6,198.3,730.8,203.5,738.7C208.8,746.5,216.6,754.4,221.8,762.2" />
<path d="M206.1,754.4C203.5,762.2,200.9,770.1,198.3,780.0" />
<path d="M258.4,608.0C250.6,618.4,245.4,628.9,245.4,639.3" />
<path d="M263.7,655.0C255.8,660.3,250.6,668.1,250.6,681.2C253.2,696.9,255.8,707.3,250.6,720.4C245.4,728.2,240.1,738.7,242.7,749.2C245.4,759.6,248.0,767.5,250.6,775.3" />
<path d="M240.1,691.6C237.5,702.1,232.3,712.5,229.7,723.0C232.3,738.7,237.5,749.2,242.7,757.0" />
<path d="M268.9,686.4C276.7,696.9,282.0,709.9,279.3,723.0C276.7,733.5,271.5,738.7,270.2,746.5C268.9,757.0,271.5,764.8,271.5,775.3" />
<path d="M245.4,717.8C248.0,728.2,258.4,733.5,268.9,736.1" />
<path d="M257.1,584.4C266.3,581.8,274.1,584.4,279.3,592.3C284.6,600.1,292.4,597.5,302.9,592.3C310.7,587.1,318.6,576.6,326.4,571.4C334.2,568.8,342.1,576.6,347.3,584.4C352.5,592.3,355.2,597.5,359.9,600.1" />
<path d="M268.9,587.1C279.3,581.8,284.6,571.4,289.8,566.1C295.0,560.9,300.3,560.9,302.9,562.2" />
<path d="M302.9,592.3C308.1,597.5,310.7,605.4,313.3,613.2C310.7,618.4,310.7,623.7,312.0,626.3" />
<path d="M313.3,605.4C315.9,605.4,318.6,606.7,321.2,609.3" />
<path d="M263.7,642.0C274.1,639.3,289.8,639.3,300.3,639.3C305.5,644.6,305.5,649.8,310.7,647.2C321.2,644.6,336.9,636.7,349.9,631.5L359.9,628.9" />
<path d="M305.5,647.2C315.9,655.0,326.4,657.6,344.7,662.9" />
<path d="M276.7,668.1C287.2,665.5,295.0,670.7,300.3,675.9C305.5,678.6,310.7,678.6,321.2,683.8C326.4,691.6,331.6,702.1,336.9,704.7C344.7,707.3,352.5,704.7,359.9,699.5" />
<path d="M271.5,540.0C274.1,545.2,274.1,550.5,271.5,555.7" />
<path d="M326.4,540.0C331.6,545.2,342.1,550.5,359.9,555.7" />
</g>
</g>
<circle cx="200.5" cy="580" r="197.5" fill="none" stroke="#06306c" stroke-width="3"/>

<!-- right circle -->
<circle cx="1079" cy="579" r="197" fill="url(#gR)"/>
<g clip-path="url(#clipR)">
<circle cx="1054" cy="468" r="44" fill="url(#pkh)"/>
<circle cx="1037" cy="612" r="48" fill="url(#pkh)"/>
<circle cx="1154" cy="539" r="40" fill="url(#pkh)"/>
<circle cx="934.5" cy="506" r="36" fill="url(#pkw)"/>
<circle cx="1191" cy="452" r="36" fill="url(#pkw)"/>
<circle cx="1184.6" cy="682.4" r="36" fill="url(#pkw)"/>
<circle cx="1069.5" cy="715" r="32" fill="url(#pkw)"/>
<g fill="none" stroke="#1a5eae" stroke-linecap="round" stroke-linejoin="round">
<g stroke-width="4.4">
<path d="M1080.0,534.7C1093.1,532.5,1106.1,530.3,1119.2,532.5C1132.3,534.7,1141.0,536.9,1149.7,539.0" />
<path d="M923.6,697.6C936.6,702.0,945.4,706.4,954.1,697.6C958.4,684.6,962.8,675.9,975.9,671.5C993.3,669.3,1010.7,667.1,1023.8,656.3C1032.5,645.4,1036.9,632.3,1039.0,619.2C1041.2,606.1,1045.6,593.1,1049.9,580.0" />
<path d="M1080.0,532.5C1071.7,536.9,1065.2,545.6,1060.8,554.3" />
<path d="M1049.0,582.0C1054.0,566.0,1064.0,550.0,1081.0,535.0" />
</g>
<g stroke-width="2.5">
<path d="M982.4,410.5C993.3,414.9,1002.0,419.2,1010.7,421.4C1015.1,427.9,1017.3,434.5,1021.6,441.0C1028.1,443.2,1034.7,436.6,1032.5,430.1" />
<path d="M1023.8,393.1C1021.6,401.8,1023.8,412.7,1030.3,421.4C1036.9,425.8,1045.6,421.4,1049.9,414.9C1058.6,412.7,1067.4,406.1,1076.1,388.7" />
<path d="M1019.4,441.0C1021.6,449.7,1023.8,458.4,1028.1,467.1" />
<path d="M1049.9,451.9C1049.9,458.4,1052.1,462.8,1054.3,467.1" />
<path d="M980.2,438.8C980.2,447.5,971.5,454.1,965.0,456.3C960.6,462.8,962.8,471.5,967.1,478.0C969.3,486.8,971.5,495.5,975.9,506.4" />
<path d="M917.0,473.7C923.6,482.4,934.5,488.9,951.9,486.8C960.6,486.8,967.1,491.1,971.5,497.6" />
<path d="M897.4,512.9C910.5,508.5,921.4,504.2,932.3,504.2C941.0,510.7,949.7,517.3,967.1,521.6" />
<path d="M893.1,547.8C906.1,545.6,919.2,539.0,923.6,532.5C925.8,521.6,927.9,517.3,932.3,508.5" />
<path d="M927.9,528.1C930.1,543.4,932.3,554.3,934.5,565.2C938.8,571.7,945.4,576.1,951.9,580.0" />
<path d="M1004.2,467.1C1002.0,478.0,1002.0,488.9,1004.2,497.6C995.5,502.0,988.9,504.2,980.2,504.2" />
<path d="M1004.2,497.6C1010.7,502.0,1015.1,506.4,1017.3,510.7C1010.7,519.4,1002.0,526.0,988.9,526.0C984.6,523.8,982.4,519.4,984.6,515.1" />
<path d="M1017.3,506.4C1028.1,504.2,1036.9,506.4,1045.6,517.3C1049.9,523.8,1054.3,528.1,1060.8,532.5" />
<path d="M1047.8,473.7C1045.6,482.4,1047.8,491.1,1054.3,497.6C1058.6,504.2,1063.0,510.7,1067.4,515.1" />
<path d="M1065.2,521.6C1067.4,532.5,1063.0,545.6,1054.3,554.3C1049.9,563.0,1049.9,571.7,1052.1,580.0" />
<path d="M1015.1,554.3C1023.8,549.9,1032.5,545.6,1041.2,545.6C1049.9,547.8,1054.3,552.1,1056.5,556.5" />
<path d="M975.9,558.6C982.4,563.0,988.9,569.5,993.3,580.0" />
<path d="M960.6,580.0C965.0,576.1,969.3,573.9,973.7,571.7" />
<path d="M1071.7,475.9C1071.7,488.9,1073.9,497.6,1080.0,502.0" />
<path d="M1106.1,530.3C1110.5,521.6,1114.9,515.1,1125.8,510.7C1127.9,497.6,1123.6,484.6,1121.4,471.5C1119.2,460.6,1123.6,454.1,1136.6,447.5C1145.4,443.2,1154.1,443.2,1162.8,442.1" />
<path d="M1114.9,515.1C1112.7,502.0,1106.1,488.9,1101.8,480.2" />
<path d="M1132.3,486.8C1138.8,484.6,1145.4,482.4,1147.5,478.0C1149.7,484.6,1154.1,488.9,1158.4,488.9C1162.8,493.3,1165.0,493.3,1167.1,493.3" />
<path d="M1171.5,547.8C1184.6,545.6,1202.0,541.2,1219.4,532.5C1232.5,528.1,1245.6,532.5,1258.6,545.6C1267.4,554.3,1273.9,558.6,1280.0,563.0" />
<path d="M1169.3,532.5C1171.5,519.4,1173.7,510.7,1184.6,506.4C1193.3,504.2,1202.0,497.6,1204.2,488.9C1206.4,482.4,1210.7,478.0,1212.9,478.0" />
<path d="M1184.6,506.4C1182.4,493.3,1184.6,480.2,1182.4,471.5C1184.6,465.0,1188.9,462.8,1191.1,460.6" />
<path d="M1193.3,541.2C1197.6,532.5,1202.0,523.8,1206.4,515.1C1219.4,510.7,1232.5,508.5,1245.6,504.2C1252.1,497.6,1254.3,493.3,1256.5,491.1" />
<path d="M1210.7,554.3C1223.8,552.1,1236.9,552.1,1245.6,556.5C1254.3,563.0,1258.6,571.7,1263.0,580.0" />
<path d="M1171.5,549.9C1175.9,560.8,1184.6,567.4,1193.3,569.5C1197.6,571.7,1202.0,576.1,1204.2,580.0" />
<path d="M1121.4,567.4C1130.1,565.2,1141.0,567.4,1151.9,571.7" />
<path d="M1119.2,399.6C1127.9,399.6,1136.6,406.1,1141.0,406.1C1145.4,414.9,1154.1,423.6,1162.8,423.6C1171.5,423.6,1178.0,417.0,1180.2,412.7" />
<path d="M1141.0,393.1C1141.0,399.6,1141.0,404.0,1141.0,406.1" />
<path d="M1086.5,441.0C1090.9,427.9,1097.4,419.2,1101.8,410.5" />
<path d="M1088.7,449.7C1099.6,445.4,1110.5,438.8,1119.2,430.1C1127.9,425.8,1136.6,423.6,1141.0,421.4" />
<path d="M1086.5,447.5C1084.4,460.6,1082.2,467.1,1080.0,475.9" />
<path d="M954.1,697.6C951.9,684.6,945.4,671.5,934.5,658.4" />
<path d="M962.8,673.7C962.8,662.8,960.6,651.9,954.1,641.0C949.7,636.6,943.2,636.6,932.3,638.8" />
<path d="M954.1,641.0C956.3,636.6,958.4,632.3,960.6,627.9" />
<path d="M986.8,671.5C991.1,684.6,997.6,693.3,1010.7,697.6C1006.4,710.7,1004.2,719.4,1010.7,730.3" />
<path d="M1010.7,697.6C1019.4,695.5,1028.1,693.3,1036.9,697.6C1045.6,708.5,1054.3,715.1,1063.0,719.4" />
<path d="M1028.1,693.3C1028.1,684.6,1032.5,678.0,1043.4,675.9C1052.1,675.9,1058.6,673.7,1060.8,669.3" />
<path d="M1023.8,697.6C1032.5,710.7,1036.9,721.6,1041.2,730.3C1045.6,736.9,1049.9,739.0,1054.3,741.2" />
<path d="M1041.2,728.1C1049.9,736.9,1058.6,745.6,1065.2,749.9" />
<path d="M980.2,630.1C984.6,638.8,997.6,641.0,1002.0,647.5C1006.4,656.3,1008.5,662.8,1008.5,667.1" />
<path d="M884.4,612.7C897.4,617.0,910.5,612.7,923.6,601.8C934.5,595.3,945.4,593.1,954.1,584.4C956.3,582.2,958.4,580.0,958.4,580.0" />
<path d="M923.6,580.0C923.6,588.7,925.8,595.3,930.1,597.4" />
<path d="M945.4,593.1C949.7,601.8,956.3,610.5,962.8,610.5C971.5,610.5,984.6,608.3,991.1,610.5" />
<path d="M997.6,580.0C1002.0,588.7,1010.7,597.4,1023.8,601.8" />
<path d="M1052.1,619.2C1056.5,632.3,1063.0,643.2,1080.0,643.2" />
<path d="M1071.7,645.4C1073.9,654.1,1076.1,662.8,1080.0,671.5" />
<path d="M1080.0,588.7C1088.7,595.3,1097.4,601.8,1106.1,601.8C1114.9,597.4,1123.6,593.1,1136.6,595.3C1145.4,599.6,1154.1,604.0,1162.8,606.1C1171.5,601.8,1180.2,595.3,1188.9,595.3C1197.6,599.6,1206.4,608.3,1215.1,608.3" />
<path d="M1106.1,601.8C1108.3,593.1,1114.9,586.5,1121.4,580.0" />
<path d="M1136.6,595.3C1143.2,606.1,1145.4,614.9,1143.2,623.6C1143.2,632.3,1151.9,638.8,1158.4,641.0C1162.8,643.2,1165.0,645.4,1167.1,647.5" />
<path d="M1162.8,606.1C1171.5,614.9,1178.0,623.6,1182.4,632.3C1188.9,638.8,1197.6,641.0,1202.0,643.2C1210.7,638.8,1221.6,632.3,1232.5,623.6L1239.0,621.4" />
<path d="M1182.4,630.1C1188.9,625.8,1195.5,623.6,1202.0,625.8" />
<path d="M1193.3,643.2C1195.5,651.9,1197.6,660.6,1202.0,667.1C1210.7,667.1,1219.4,662.8,1223.8,660.6" />
<path d="M1202.0,667.1C1210.7,658.4,1223.8,649.7,1236.9,643.2C1247.8,636.6,1258.6,623.6,1271.7,617.0" />
<path d="M1245.6,638.8C1254.3,645.4,1260.8,649.7,1265.2,654.1" />
<path d="M1199.8,584.4C1210.7,593.1,1219.4,601.8,1228.1,606.1C1239.0,608.3,1254.3,601.8,1271.7,597.4" />
<path d="M1223.8,588.7C1232.5,593.1,1241.2,590.9,1249.9,584.4" />
<path d="M1254.3,604.0C1258.6,610.5,1267.4,612.7,1276.1,610.5" />
<path d="M1080.0,641.0C1093.1,638.8,1106.1,636.6,1114.9,632.3" />
<path d="M1093.1,641.0C1097.4,649.7,1101.8,658.4,1112.7,662.8" />
<path d="M1130.1,662.8C1145.4,665.0,1158.4,662.8,1171.5,660.6C1180.2,665.0,1184.6,671.5,1186.8,678.0" />
<path d="M1138.8,686.8C1145.4,680.2,1156.3,680.2,1167.1,684.6C1171.5,688.9,1175.9,693.3,1180.2,693.3" />
<path d="M1193.3,686.8C1202.0,682.4,1206.4,678.0,1212.9,675.9" />
<path d="M1195.5,697.6C1206.4,704.2,1219.4,704.2,1232.5,697.6" />
<path d="M1178.0,697.6C1173.7,710.7,1173.7,723.8,1175.9,736.9C1178.0,745.6,1180.2,749.9,1182.4,754.3" />
<path d="M1080.0,736.9C1093.1,732.5,1106.1,726.0,1119.2,726.0C1127.9,723.8,1136.6,719.4,1145.4,715.1C1151.9,712.9,1156.3,710.7,1160.6,710.7" />
<path d="M1119.2,726.0C1123.6,734.7,1127.9,739.0,1136.6,741.2C1141.0,743.4,1145.4,745.6,1147.5,747.8" />
<path d="M1080.0,736.9C1082.2,745.6,1086.5,752.1,1093.1,754.3C1097.4,756.5,1099.6,756.5,1101.8,754.3" />
</g>
</g>
<circle cx="1054" cy="471" r="40" fill="url(#pk)"/>
<circle cx="1191" cy="452" r="34" fill="url(#pk)"/>
<circle cx="934.5" cy="506" r="34" fill="url(#pk)"/>
<circle cx="1154" cy="541" r="36" fill="url(#pk)"/>
<circle cx="1037" cy="615" r="42" fill="url(#pk)"/>
<circle cx="1184.6" cy="682.4" r="36" fill="url(#pk)"/>
<circle cx="1069.5" cy="715" r="34" fill="url(#pk)"/>
</g>
<circle cx="1079" cy="579" r="197" fill="none" stroke="#0a3272" stroke-width="3"/>

<!-- connectors -->
<path d="M429,190.9 H200.5 V382" fill="none" stroke="#041e60" stroke-width="2.6"/>
<circle cx="443" cy="190.5" r="14" fill="none" stroke="#021850" stroke-width="3.3"/>
<path d="M823,251.6 H1080.5 V382" fill="none" stroke="#041e60" stroke-width="2.6"/>
<circle cx="809.8" cy="251.4" r="54" fill="url(#mkg)"/>
<circle cx="809.8" cy="251.4" r="14.5" fill="#f59ce0" stroke="#b82050" stroke-width="2.8"/>

<!-- dashed line -->
<rect x="636.3" y="88.3" width="9.7" height="51.8" fill="#000"/>
<rect x="636.3" y="164.6" width="9.7" height="51.0" fill="#000"/>
<rect x="636.3" y="240.2" width="9.7" height="51.5" fill="#000"/>
<rect x="636.3" y="316.2" width="9.7" height="51.3" fill="#000"/>
<rect x="636.3" y="392.0" width="9.7" height="51.3" fill="#000"/>
<rect x="636.3" y="468.1" width="9.7" height="51.0" fill="#000"/>
<rect x="636.3" y="543.6" width="9.7" height="51.8" fill="#000"/>
<rect x="636.3" y="619.6" width="9.7" height="51.4" fill="#000"/>
<rect x="636.3" y="686.7" width="9.7" height="51.1" fill="#000"/>
<rect x="636.3" y="762.4" width="9.7" height="51.6" fill="#000"/>
<rect x="636.3" y="838.6" width="9.7" height="51.5" fill="#000"/>
<rect x="636.3" y="914.8" width="9.7" height="3.2" fill="#000"/>

<text x="332.5" y="68" font-size="60" font-weight="bold" fill="#1475ca" stroke="#1475ca" stroke-width="1.2" textLength="606" lengthAdjust="spacingAndGlyphs">Demencia vascular</text>
<text x="120" y="871" font-size="29.5" fill="#106ec8" stroke="#106ec8" stroke-width="0.6" textLength="372" lengthAdjust="spacingAndGlyphs">Vasos sanguíneos sanos</text>
<text x="724" y="865" font-size="29.5" fill="#106ec8" stroke="#106ec8" stroke-width="0.6" textLength="492" lengthAdjust="spacingAndGlyphs">Accidente isquémico transitorio</text>
</svg>
</body></html>
